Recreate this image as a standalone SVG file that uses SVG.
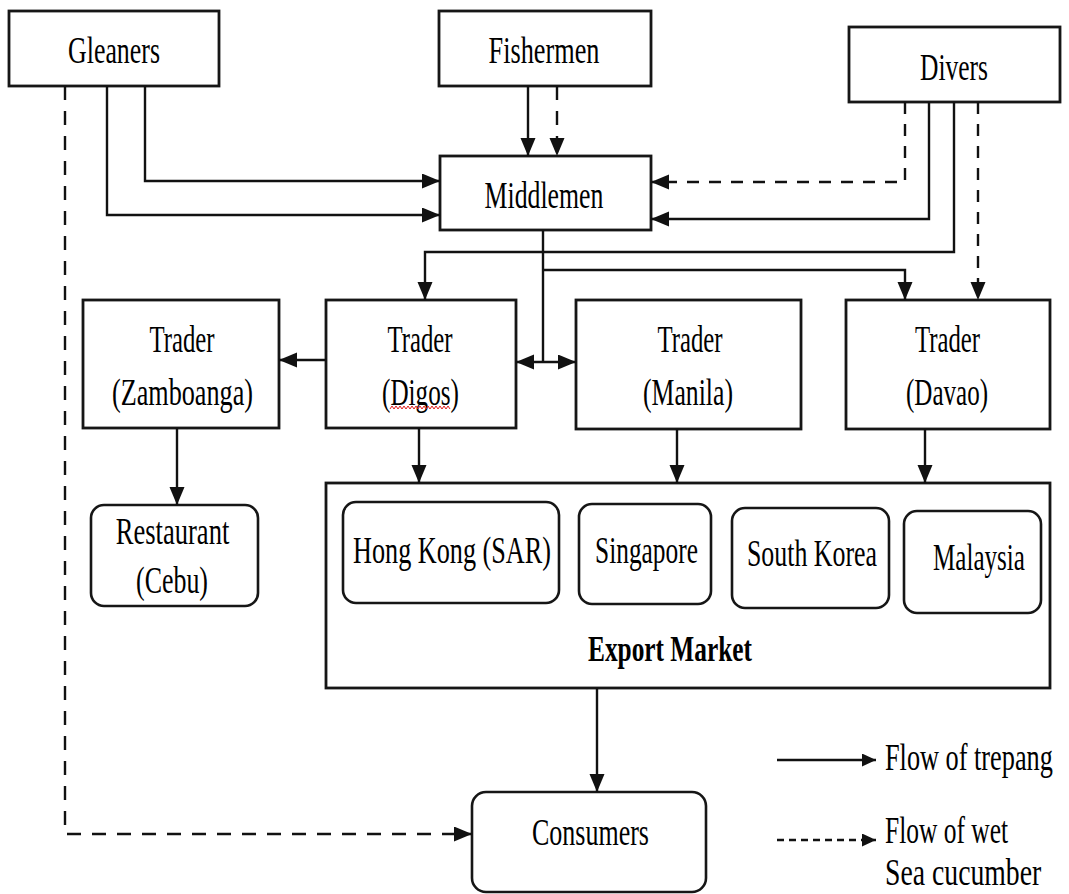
<svg xmlns="http://www.w3.org/2000/svg" width="1069" height="894" viewBox="0 0 1069 894">
<defs>
<style>
.box{fill:#fff;stroke:#161616;stroke-width:2.8}
.rbox{fill:#fff;stroke:#161616;stroke-width:2.6}
.t{font-family:"Liberation Serif","Times New Roman",serif;font-size:38px;fill:#000;text-anchor:middle}
.tl{font-family:"Liberation Serif","Times New Roman",serif;font-size:38px;fill:#000;text-anchor:start}
.b{font-weight:bold;font-size:36px}
.c{fill:none;stroke:#111;stroke-width:2.4}
.d1{stroke-dasharray:14 11}
.d3{stroke-dasharray:12 10}
.d5{stroke-dasharray:7 5}
</style>
<marker id="ah" markerUnits="userSpaceOnUse" markerWidth="19" markerHeight="16" refX="18" refY="7.5" orient="auto-start-reverse">
<path d="M0,0 L18,7.5 L0,15 z" fill="#111"/>
</marker>
<marker id="ahs" markerUnits="userSpaceOnUse" markerWidth="15" markerHeight="14" refX="14" refY="6.5" orient="auto">
<path d="M0,0 L14,6.5 L0,13 z" fill="#111"/>
</marker>
</defs>

<g id="gleaners"><rect class="box" x="9" y="11" width="210" height="75"/><text class="t" transform="translate(114,63) scale(0.681,1)">Gleaners</text></g>
<g id="fishermen"><rect class="box" x="439" y="11" width="212" height="75"/><text class="t" transform="translate(544,63) scale(0.692,1)">Fishermen</text></g>
<g id="divers"><rect class="box" x="849" y="27" width="211" height="75"/><text class="t" transform="translate(954,80) scale(0.671,1)">Divers</text></g>
<g id="middlemen"><rect class="box" x="440" y="156" width="211" height="74"/><text class="t" transform="translate(544,208) scale(0.679,1)">Middlemen</text></g>

<g id="trader-zamboanga"><rect class="box" x="83" y="300" width="196" height="128"/><text class="t" transform="translate(182,352) scale(0.652,1)">Trader</text><text class="t" transform="translate(182.5,405) scale(0.689,1)">(Zamboanga)</text></g>
<g id="trader-digos"><rect class="box" x="326" y="300" width="190" height="128"/><text class="t" transform="translate(420,352) scale(0.652,1)">Trader</text><text class="t" transform="translate(420.5,405) scale(0.663,1)">(Digos)</text><polyline points="390,409 392,406 394,409 396,406 398,409 400,406 402,409 404,406 406,409 408,406 410,409 412,406 414,409 416,406 418,409 420,406 422,409 424,406 426,409 428,406 430,409 432,406 434,409 436,406 438,409 440,406 442,409 444,406 446,409 448,406 450,409" fill="none" stroke="#e02020" stroke-width="1"/></g>
<g id="trader-manila"><rect class="box" x="576" y="300" width="225" height="129"/><text class="t" transform="translate(690,352) scale(0.652,1)">Trader</text><text class="t" transform="translate(688,405) scale(0.677,1)">(Manila)</text></g>
<g id="trader-davao"><rect class="box" x="846" y="300" width="204" height="129"/><text class="t" transform="translate(947.5,352) scale(0.652,1)">Trader</text><text class="t" transform="translate(947,405) scale(0.659,1)">(Davao)</text></g>

<g id="restaurant"><rect class="rbox" x="91" y="505" width="167" height="101" rx="13"/><text class="t" transform="translate(172.5,544) scale(0.7,1)">Restaurant</text><text class="t" transform="translate(172,593) scale(0.682,1)">(Cebu)</text></g>

<g id="export-market"><rect class="box" x="326" y="483" width="724" height="205"/><text class="t b" transform="translate(670,661) scale(0.704,1)">Export Market</text></g>
<g id="hong-kong"><rect class="rbox" x="343" y="502" width="216" height="101" rx="13"/><text class="t" transform="translate(452,563) scale(0.69,1)">Hong Kong (SAR)</text></g>
<g id="singapore"><rect class="rbox" x="579" y="504" width="132" height="100" rx="13"/><text class="t" transform="translate(646.5,563) scale(0.668,1)">Singapore</text></g>
<g id="south-korea"><rect class="rbox" x="732" y="508" width="157" height="100" rx="13"/><text class="t" transform="translate(812,566) scale(0.681,1)">South Korea</text></g>
<g id="malaysia"><rect class="rbox" x="904" y="511" width="137" height="102" rx="13"/><text class="t" transform="translate(979,570) scale(0.66,1)">Malaysia</text></g>

<g id="consumers"><rect class="rbox" x="472" y="792" width="234" height="100" rx="14"/><text class="t" transform="translate(590.5,845) scale(0.684,1)">Consumers</text></g>

<g id="connectors">
<polyline class="c" points="145,86 145,181 440,181" marker-end="url(#ah)"/>
<polyline class="c" points="107,86 107,215 440,215" marker-end="url(#ah)"/>
<polyline class="c d1" points="65,86 65,834 472,834" marker-end="url(#ah)"/>
<line class="c" x1="528" y1="86" x2="528" y2="156" marker-end="url(#ah)"/>
<line class="c d1" x1="557" y1="86" x2="557" y2="156" marker-end="url(#ah)"/>
<polyline class="c d3" points="905,102 905,182 651,182" marker-end="url(#ah)"/>
<polyline class="c" points="929,102 929,219 651,219" marker-end="url(#ah)"/>
<polyline class="c" points="954,102 954,252 425,252 425,300" marker-end="url(#ah)"/>
<line class="c d3" x1="978" y1="102" x2="978" y2="300" marker-end="url(#ah)"/>
<line class="c" x1="543" y1="230" x2="543" y2="362"/>
<polyline class="c" points="543,270 905,270 905,300" marker-end="url(#ah)"/>
<line class="c" x1="516" y1="362" x2="576" y2="362" marker-start="url(#ah)" marker-end="url(#ah)"/>
<line class="c" x1="326" y1="360" x2="279" y2="360" marker-end="url(#ah)"/>
<line class="c" x1="177" y1="428" x2="177" y2="505" marker-end="url(#ah)"/>
<line class="c" x1="419" y1="428" x2="419" y2="483" marker-end="url(#ah)"/>
<line class="c" x1="677" y1="429" x2="677" y2="483" marker-end="url(#ah)"/>
<line class="c" x1="925" y1="429" x2="925" y2="483" marker-end="url(#ah)"/>
<line class="c" x1="597" y1="688" x2="597" y2="792" marker-end="url(#ah)"/>
</g>

<g id="legend">
<line class="c" x1="777" y1="760" x2="876" y2="760" stroke-width="3" marker-end="url(#ahs)"/>
<line class="c d5" x1="777" y1="840" x2="876" y2="840" stroke-width="3" marker-end="url(#ahs)"/>
<text class="tl" transform="translate(885,770) scale(0.692,1)">Flow of trepang</text>
<text class="tl" transform="translate(885,843) scale(0.67,1)">Flow of wet</text>
<text class="tl" transform="translate(885,885) scale(0.73,1)">Sea cucumber</text>
</g>
</svg>
